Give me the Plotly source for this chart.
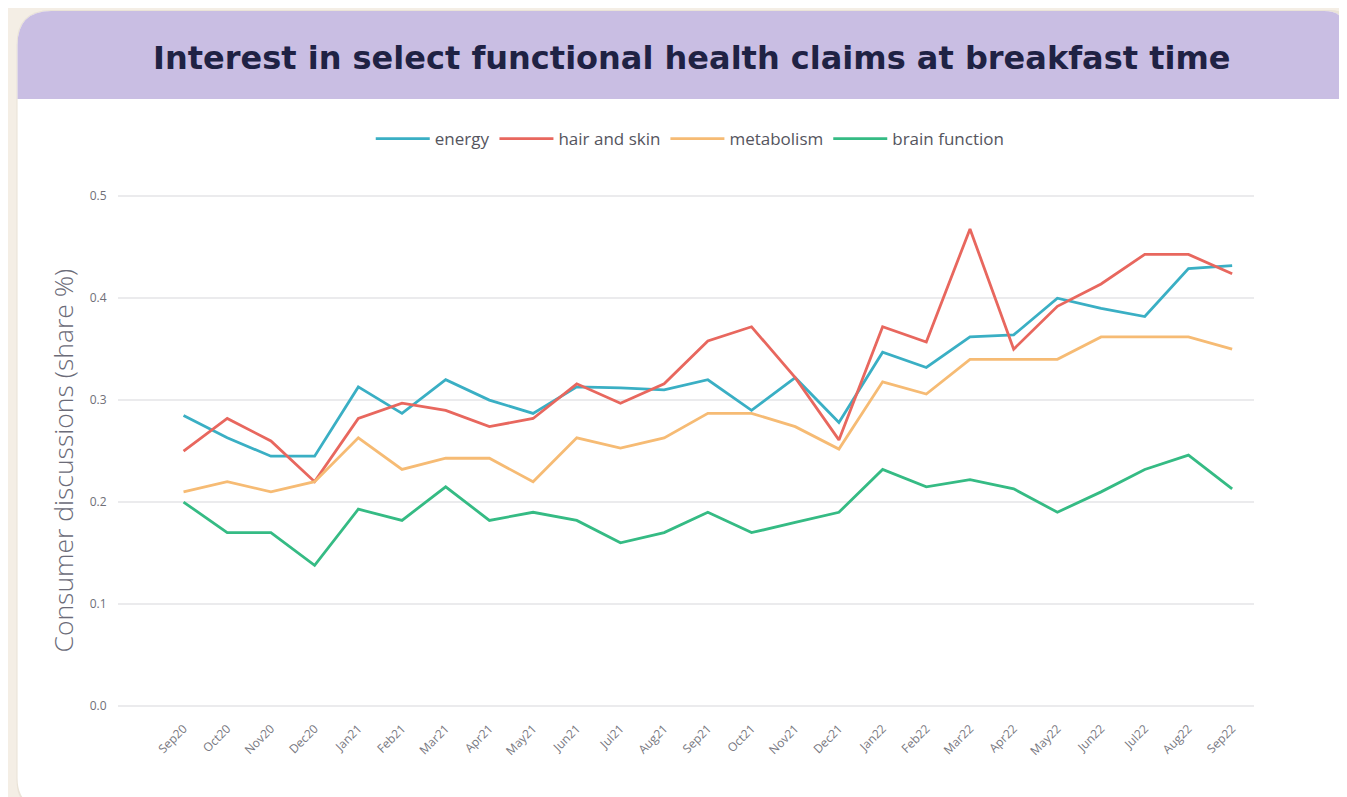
import plotly.graph_objects as go

months = ["Sep20", "Oct20", "Nov20", "Dec20", "Jan21", "Feb21", "Mar21", "Apr21", "May21",
          "Jun21", "Jul21", "Aug21", "Sep21", "Oct21", "Nov21", "Dec21", "Jan22", "Feb22",
          "Mar22", "Apr22", "May22", "Jun22", "Jul22", "Aug22", "Sep22"]

energy = [0.285, 0.263, 0.245, 0.245, 0.313, 0.287, 0.320, 0.300, 0.287, 0.313, 0.312, 0.310,
          0.320, 0.290, 0.322, 0.278, 0.347, 0.332, 0.362, 0.364, 0.400, 0.390, 0.382, 0.429, 0.432]
hair_and_skin = [0.250, 0.282, 0.260, 0.220, 0.282, 0.297, 0.290, 0.274, 0.282, 0.316, 0.297, 0.316,
                 0.358, 0.372, 0.322, 0.261, 0.372, 0.357, 0.468, 0.350, 0.392, 0.414, 0.443, 0.443, 0.424]
metabolism = [0.210, 0.220, 0.210, 0.220, 0.263, 0.232, 0.243, 0.243, 0.220, 0.263, 0.253, 0.263,
              0.287, 0.287, 0.274, 0.252, 0.318, 0.306, 0.340, 0.340, 0.340, 0.362, 0.362, 0.362, 0.350]
brain_function = [0.200, 0.170, 0.170, 0.138, 0.193, 0.182, 0.215, 0.182, 0.190, 0.182, 0.160, 0.170,
                  0.190, 0.170, 0.180, 0.190, 0.232, 0.215, 0.222, 0.213, 0.190, 0.210, 0.232, 0.246, 0.213]

series_names = ["energy", "hair and skin", "metabolism", "brain function"]
series_colors = ["#3aafc4", "#e8675e", "#f6bb74", "#35bb84"]
y_ticks = [0.0, 0.1, 0.2, 0.3, 0.4, 0.5]

title_text = "Interest in select functional health claims at breakfast time"
y_title = "Consumer discussions (share %)"

# page body margin offset (figure is drawn 8px in from the window corner)
OFF = 8
W, H = 1347, 797
# plot area in window pixels
L, R = 117.5, 1254.0
T, B = 181.0, 711.0


def px(x):
    return (x - L) / (R - L)


def py(y):
    return (B - y) / (B - T)


def rounded_path(x0, y0, x1, y1, r_tl, r_tr, r_br, r_bl):
    pts = []
    pts.append("M %f,%f" % (px(x0 + r_tl), py(y0)))
    pts.append("L %f,%f" % (px(x1 - r_tr), py(y0)))
    pts.append("Q %f,%f %f,%f" % (px(x1), py(y0), px(x1), py(y0 + r_tr)))
    pts.append("L %f,%f" % (px(x1), py(y1 - r_br)))
    pts.append("Q %f,%f %f,%f" % (px(x1), py(y1), px(x1 - r_br), py(y1)))
    pts.append("L %f,%f" % (px(x0 + r_bl), py(y1)))
    pts.append("Q %f,%f %f,%f" % (px(x0), py(y1), px(x0), py(y1 - r_bl)))
    pts.append("L %f,%f" % (px(x0), py(y0 + r_tl)))
    pts.append("Q %f,%f %f,%f" % (px(x0), py(y0), px(x0 + r_tl), py(y0)))
    pts.append("Z")
    return " ".join(pts)


fig = go.Figure()
for name, vals, col in zip(series_names, [energy, hair_and_skin, metabolism, brain_function], series_colors):
    fig.add_trace(go.Scatter(x=months, y=vals, name=name, mode="lines",
                             line=dict(color=col, width=2.8)))

shapes = [
    dict(type="path", xref="paper", yref="paper", layer="below",
         path=rounded_path(16, 10, 1352, 810, 35, 22, 30, 30),
         fillcolor="rgba(215,205,190,0.35)", line=dict(width=0)),
    dict(type="path", xref="paper", yref="paper", layer="below",
         path=rounded_path(17, 11, 1346, 808, 34, 22, 30, 30),
         fillcolor="#ffffff", line=dict(width=0)),
    dict(type="path", xref="paper", yref="paper", layer="below",
         path=rounded_path(17, 11, 1346, 99, 34, 22, 0, 0),
         fillcolor="#c9bee3", line=dict(width=0)),
]

annotations = [
    dict(text="<b>" + title_text + "</b>", xref="paper", yref="paper",
         x=px(691), y=py(58), xanchor="center", yanchor="middle", showarrow=False,
         font=dict(family="DejaVu Sans, sans-serif", size=32, color="#1f2244")),
    dict(text=y_title, xref="paper", yref="paper", textangle=-90,
         x=px(62), y=py(461), xanchor="center", yanchor="middle", showarrow=False,
         font=dict(family="Open Sans, sans-serif", size=26.5, color="#6b6b78", weight=300)),
]

fig.update_layout(
    width=W, height=H,
    margin=dict(l=L - OFF, r=W - (R - OFF), t=T - OFF, b=H - (B - OFF), pad=0),
    paper_bgcolor="#f4eee5",
    plot_bgcolor="rgba(0,0,0,0)",
    shapes=shapes,
    annotations=annotations,
    showlegend=True,
    legend=dict(orientation="h", x=px(690), y=py(139), xanchor="center", yanchor="middle",
                font=dict(family="Open Sans, sans-serif", size=17, color="#55555e"),
                bgcolor="rgba(0,0,0,0)", tracegroupgap=0, itemwidth=54),
    xaxis=dict(type="category", range=[-1.5, 24.5], showgrid=False, zeroline=False,
               showline=False, tickangle=-45,
               tickfont=dict(family="Open Sans, sans-serif", size=12, color="#777780"),
               ticks="outside", ticklen=5, tickcolor="rgba(0,0,0,0)"),
    yaxis=dict(range=[-0.005, 0.515], tickvals=y_ticks, tickformat=".1f",
               showgrid=True, gridcolor="#ebebed", gridwidth=1.5, zeroline=False,
               showline=False,
               tickfont=dict(family="Open Sans, sans-serif", size=12, color="#6f6f78"),
               ticks="outside", ticklen=8, tickcolor="rgba(0,0,0,0)"),
    hovermode=False,
)

fig.write_html("out.html")
